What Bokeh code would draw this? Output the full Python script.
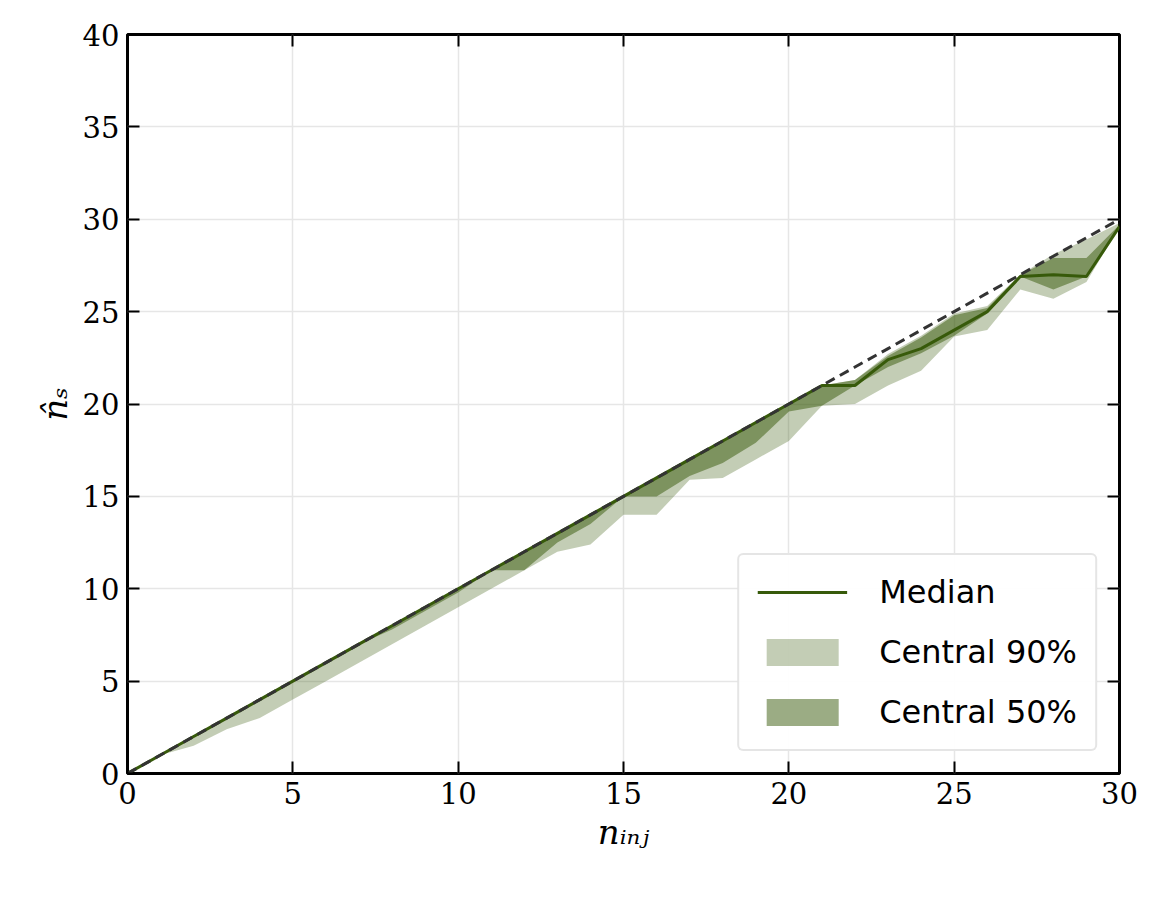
from bokeh.plotting import figure
from bokeh.models import Range1d, LinearAxis, FixedTicker
from bokeh.embed import file_html
from bokeh.resources import INLINE

n_inj = list(range(31))
median = [0, 1, 2, 3, 4, 5, 6, 7, 8, 9, 10, 11, 12, 13, 14, 15, 16, 17, 18, 19, 20,
          21, 21, 22.4, 23, 24, 25, 26.9, 27, 26.9, 29.6]
lo90 = [0, 1, 1.5, 2.4, 3, 4, 5, 6, 7, 8, 9, 10, 11, 12, 12.4, 14, 14, 15.9, 16, 17, 18,
        19.9, 20, 21, 21.8, 23.65, 24, 26.2, 25.7, 26.6, 29.6]
hi90 = [0, 1, 2, 3, 4, 5, 6, 7, 8, 9, 10, 11, 12, 13, 14, 15, 16, 17, 18, 19, 20,
        21, 21.3, 22.7, 23.7, 24.9, 25.3, 27, 28.1, 28.9, 29.8]
lo50 = [0, 1, 2, 3, 4, 5, 6, 7, 7.8, 8.8, 9.8, 11, 11, 12.5, 13.5, 15, 15, 16.1, 16.8, 17.9, 19.6,
        19.9, 21, 22, 22.75, 23.7, 24.9, 26.9, 26.2, 26.9, 29.6]
hi50 = [0, 1, 2, 3, 4, 5, 6, 7, 8, 9, 10, 11, 12, 13, 14, 15, 16, 17, 18, 19, 20,
        21, 21.3, 22.6, 23.6, 24.8, 25.2, 27, 27.9, 27.9, 29.7]
x_ticks = [0, 5, 10, 15, 20, 25, 30]
y_ticks = [0, 5, 10, 15, 20, 25, 30, 35, 40]

green = "#375a0a"
serif = "DejaVu Serif"

p = figure(width=1140, height=880, output_backend="svg", toolbar_location=None,
           x_range=Range1d(0, 30), y_range=Range1d(0, 40),
           x_axis_label="nᵢₙⱼ", y_axis_label="n̂ₛ",
           min_border_left=127, min_border_right=21, min_border_top=34, min_border_bottom=107)
p.background_fill_color = "white"
p.outline_line_color = "black"
p.outline_line_width = 3
p.grid.grid_line_color = "#e6e6e6"
p.grid.grid_line_width = 1.5

p.varea(x=n_inj, y1=lo90, y2=hi90, fill_color=green, fill_alpha=0.3, legend_label="Central 90%")
p.varea(x=n_inj, y1=lo50, y2=hi50, fill_color=green, fill_alpha=0.5, legend_label="Central 50%")
p.line(n_inj, median, line_color=green, line_width=3, legend_label="Median")
p.line(n_inj, n_inj, line_color="#333333", line_width=3, line_dash="10 6")

for ax, t in ((p.xaxis, x_ticks), (p.yaxis, y_ticks)):
    ax.ticker = FixedTicker(ticks=t)
    ax.major_tick_in = 12
    ax.major_tick_out = 0
    ax.minor_tick_line_color = None
    ax.major_tick_line_width = 2
    ax.axis_line_color = None
    ax.major_label_text_font = serif
    ax.major_label_text_font_size = "29px"
    ax.major_label_text_color = "black"
    ax.axis_label_text_font = serif
    ax.axis_label_text_font_style = "italic"
    ax.axis_label_text_font_size = "34px"
    ax.axis_label_text_color = "black"
    ax.major_label_standoff = 8

p.add_layout(LinearAxis(ticker=FixedTicker(ticks=x_ticks), major_label_text_font_size="0px",
                        major_tick_in=12, major_tick_out=0, major_tick_line_width=2,
                        minor_tick_line_color=None, axis_line_color=None), "above")
p.add_layout(LinearAxis(ticker=FixedTicker(ticks=y_ticks), major_label_text_font_size="0px",
                        major_tick_in=12, major_tick_out=0, major_tick_line_width=2,
                        minor_tick_line_color=None, axis_line_color=None), "right")

# legend order: Median first
items = p.legend[0].items
p.legend[0].items = [items[2], items[0], items[1]]
p.legend.location = "bottom_right"
p.legend.label_text_font = "DejaVu Sans"
p.legend.label_text_font_size = "32px"
p.legend.label_text_color = "black"
p.legend.glyph_width = 90
p.legend.glyph_height = 34
p.legend.label_standoff = 32
p.legend.spacing = 22
p.legend.padding = 18
p.legend.margin = 22
p.legend.border_line_color = "#cccccc"
p.legend.border_line_width = 2
p.legend.border_radius = 6

open("out.html", "w").write(file_html(p, INLINE))
